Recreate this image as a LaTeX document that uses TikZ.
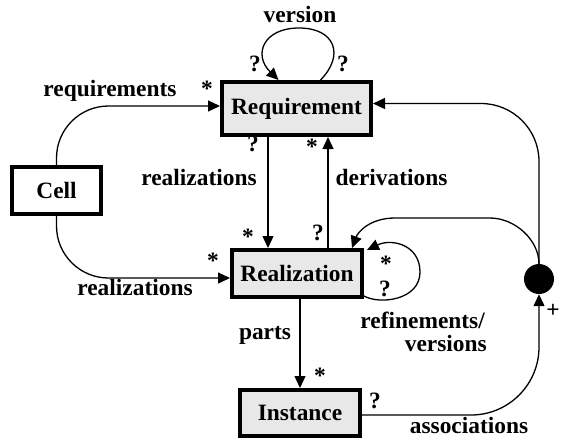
\documentclass[tikz,border=0pt]{standalone}
\usepackage{fontspec}
\setmainfont{Liberation Serif}
\usetikzlibrary{arrows.meta}

\begin{document}
\begin{tikzpicture}[x=1pt,y=-1pt,
  every node/.style={font=\bfseries\fontsize{23.4}{27}\selectfont, inner sep=0pt},
  cls/.style={draw, line width=4pt, fill=gray!18, align=center},
  lnk/.style={line width=1.3pt, -{Triangle[length=12pt,width=11pt]}},
  lbl/.style={anchor=base},
  mult/.style={anchor=base}
]
\useasboundingbox (0,0) rectangle (561,440);

% classes
\node[cls, minimum width=149, minimum height=53] (req)  at (296.5,108.5) {Requirement};
\node[cls, fill=white, minimum width=89, minimum height=47] (cell) at (56.5,190.5) {Cell};
\node[cls, minimum width=130, minimum height=47] (real) at (297,273.5) {Realization};
\node[cls, minimum width=120, minimum height=46] (inst) at (300,413) {Instance};
\node[circle, fill=black, minimum size=30] (dot) at (539,279) {};

% Cell associations
\draw[lnk, rounded corners=52] (cell.north) |- ([yshift=2.5]req.west);
\draw[lnk, rounded corners=52] (cell.south) |- ([yshift=-4.5]real.west);

% Requirement <-> Realization
\draw[lnk] (req.south -| 268,0) -- (real.north -| 268,0);
\draw[lnk] (real.north -| 328,0) -- (req.south -| 328,0);

% version loop on Requirement
\coordinate (vs) at ([xshift=24]req.north);
\coordinate (ve) at ([xshift=-18]req.north);
\draw[lnk] (vs) .. controls (345,55) and (335,28) .. (299,28)
               .. controls (263,28) and (253,55) .. (ve);

% refinements/versions loop on Realization
\coordinate (rs) at ([yshift=3]real.south east);
\coordinate (re) at ([xshift=3,yshift=-2]real.north east);
\draw[lnk] (rs) .. controls (380,305) and (420,300) .. (420,272)
               .. controls (420,245) and (392,238) .. (re);

% parts
\draw[lnk] (real.south -| 300,0) -- (inst.north -| 300,0);

% associations through the junction
\draw[lnk, rounded corners=68] ([yshift=-2]inst.east) -| (dot.south);
\draw[lnk, rounded corners=58] (dot.north) |- ([yshift=5]req.east);
\coordinate (ra) at ([xshift=-12]real.north east);
\draw[lnk] (dot.north) .. controls (539,240) and (515,218) .. (490,218)
           -- (395,218) .. controls (370,218) and (358,232) .. (ra);

% role names
\node[lbl] (tversion) at (300,22) {version};
\node[lbl] (treq) at (110,96) {requirements};
\node[lbl] (trealA) at (199,185) {realizations};
\node[lbl] (tderiv) at (391.5,185) {derivations};
\node[lbl] (trealB) at (135,295) {realizations};
\node[lbl] (tparts) at (265,339) {parts};
\node[lbl, anchor=base east] (trefA) at (485,328) {refinements/};
\node[lbl, anchor=base east] (trefB) at (487,351) {versions};
\node[lbl] (tassoc) at (469,433) {associations};

% multiplicities
\node[mult] (m1) at (255,71) {?};
\node[mult] (m2) at (343,71) {?};
\node[mult] (m3) at (207,96) {*};
\node[mult] (m4) at (253,151) {?};
\node[mult] (m5) at (312,154) {*};
\node[mult] (m6) at (248,244) {*};
\node[mult] (m7) at (318,240) {?};
\node[mult] (m8) at (213,268) {*};
\node[mult] (m9) at (386,271) {*};
\node[mult] (m10) at (385,296) {?};
\node[mult] (m11) at (320,383) {*};
\node[mult] (m12) at (375,408) {?};
\node[mult] (m13) at (553,317) {+};
\end{tikzpicture}
\end{document}
